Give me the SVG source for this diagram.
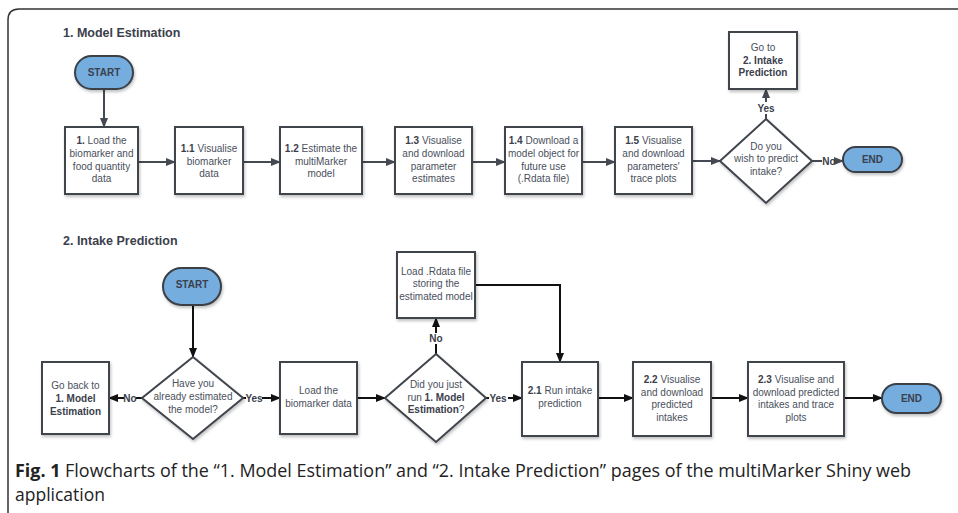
<svg xmlns="http://www.w3.org/2000/svg" width="958" height="513" viewBox="0 0 958 513">
<defs>
<marker id="ag" markerWidth="10" markerHeight="10" refX="9" refY="5" orient="auto" markerUnits="userSpaceOnUse"><path d="M0,1 L10,5 L0,9 Z" fill="#454a52"/></marker>
<marker id="ak" markerWidth="10" markerHeight="10" refX="9" refY="5" orient="auto" markerUnits="userSpaceOnUse"><path d="M0,1 L10,5 L0,9 Z" fill="#111"/></marker>
<filter id="sh" x="-10%" y="-10%" width="130%" height="130%"><feDropShadow dx="1" dy="2" stdDeviation="1.5" flood-color="#000" flood-opacity="0.25"/></filter>
</defs>
<style>
.box{fill:#fff;stroke:#3f444c;stroke-width:2;filter:url(#sh)}
.pill{fill:#74addf;stroke:#3a3f47;stroke-width:2;filter:url(#sh)}
.t{font-family:"Liberation Sans",Arial,sans-serif;font-size:10px;fill:#4a4f5c;text-anchor:middle}
.b{font-weight:bold;fill:#3b404c}
.h{font-family:"Liberation Sans",Arial,sans-serif;font-size:12.5px;font-weight:bold;fill:#3b404c}
.lbl{font-family:"Liberation Sans",Arial,sans-serif;font-size:10px;font-weight:bold;fill:#3b404c;text-anchor:middle}
.cg{fill:none;stroke:#454a52;stroke-width:2;marker-end:url(#ag)}
.ck{fill:none;stroke:#111;stroke-width:2;marker-end:url(#ak)}
.cap{font-family:"Open Sans","Liberation Sans",sans-serif;font-size:17.5px;fill:#222}
</style>
<path d="M8,513 L8,20 Q8,9 19,9 L958,9" fill="none" stroke="#333" stroke-width="1.5"/>
<text class="h" x="63" y="37">1. Model Estimation</text>
<text class="h" x="63" y="245">2. Intake Prediction</text>

<g id="connectors">
<path class="cg" d="M104,89 V127"/>
<path class="cg" d="M138,162 H175"/>
<path class="cg" d="M243,162 H280"/>
<path class="cg" d="M362,162 H395"/>
<path class="cg" d="M472,162 H505"/>
<path class="cg" d="M582,162 H615"/>
<path class="cg" d="M692,161 H720"/>
<path class="cg" d="M812,161 H822 M836,161 H843"/>
<path class="cg" d="M766,119 V114 M766,102 V89"/>
<path class="ck" d="M193,305 V357"/>
<path class="ck" d="M142,398 H136 M124,398 H109"/>
<path class="ck" d="M243,398 H246 M262,398 H280"/>
<path class="ck" d="M357,398 H385"/>
<path class="ck" d="M436,354 V344 M436,333 V318"/>
<path class="ck" d="M475,285 H560 V362"/>
<path class="ck" d="M486,398 H489 M508,398 H522"/>
<path class="ck" d="M598,398 H633"/>
<path class="ck" d="M711,398 H748"/>
<path class="ck" d="M844,398 H882"/>
</g>
<g id="labels">
<text class="lbl" x="829" y="165">No</text>
<text class="lbl" x="766" y="112">Yes</text>
<text class="lbl" x="130" y="402">No</text>
<text class="lbl" x="254" y="402">Yes</text>
<text class="lbl" x="436" y="342">No</text>
<text class="lbl" x="498" y="402">Yes</text>
</g>

<g id="start1"><rect class="pill" x="75" y="56" width="58" height="33" rx="16.5"/><text class="t b" x="104" y="76">START</text></g>
<g id="n1"><rect class="box" x="65" y="127" width="73" height="67"/>
<text class="t" x="101.5" y="144"><tspan class="b">1.</tspan> Load the</text>
<text class="t" x="101.5" y="157">biomarker and</text>
<text class="t" x="101.5" y="170">food quantity</text>
<text class="t" x="101.5" y="182">data</text></g>
<g id="n11"><rect class="box" x="175" y="127" width="68" height="67"/>
<text class="t" x="209" y="152"><tspan class="b">1.1</tspan> Visualise</text>
<text class="t" x="209" y="165">biomarker</text>
<text class="t" x="209" y="177">data</text></g>
<g id="n12"><rect class="box" x="280" y="127" width="82" height="67"/>
<text class="t" x="321" y="152"><tspan class="b">1.2</tspan> Estimate the</text>
<text class="t" x="321" y="165">multiMarker</text>
<text class="t" x="321" y="177">model</text></g>
<g id="n13"><rect class="box" x="395" y="127" width="77" height="67"/>
<text class="t" x="433.5" y="144"><tspan class="b">1.3</tspan> Visualise</text>
<text class="t" x="433.5" y="157">and download</text>
<text class="t" x="433.5" y="170">parameter</text>
<text class="t" x="433.5" y="182">estimates</text></g>
<g id="n14"><rect class="box" x="505" y="127" width="77" height="67"/>
<text class="t" x="543.5" y="144"><tspan class="b">1.4</tspan> Download a</text>
<text class="t" x="543.5" y="157">model object for</text>
<text class="t" x="543.5" y="170">future use</text>
<text class="t" x="543.5" y="182">(.Rdata file)</text></g>
<g id="n15"><rect class="box" x="615" y="127" width="77" height="67"/>
<text class="t" x="653.5" y="144"><tspan class="b">1.5</tspan> Visualise</text>
<text class="t" x="653.5" y="157">and download</text>
<text class="t" x="653.5" y="170">parameters'</text>
<text class="t" x="653.5" y="182">trace plots</text></g>
<g id="d1"><path class="box" d="M766,119 L812,161 L766,203 L720,161 Z"/>
<text class="t" x="766" y="150">Do you</text>
<text class="t" x="766" y="162">wish to predict</text>
<text class="t" x="766" y="175">intake?</text></g>
<g id="goto2"><rect class="box" x="729" y="32" width="68" height="57"/>
<text class="t" x="763" y="51">Go to</text>
<text class="t b" x="763" y="64">2. Intake</text>
<text class="t b" x="763" y="76">Prediction</text></g>
<g id="end1"><rect class="pill" x="843" y="147" width="59" height="25" rx="12.5"/><text class="t b" x="872.5" y="163">END</text></g>

<g id="start2"><rect class="pill" x="163" y="268" width="58" height="37" rx="18.5"/><text class="t b" x="192" y="288">START</text></g>
<g id="d2"><path class="box" d="M193,357 L243,398 L193,439 L142,398 Z"/>
<text class="t" x="193" y="387">Have you</text>
<text class="t" x="193" y="400">already estimated</text>
<text class="t" x="193" y="413">the model?</text></g>
<g id="goback"><rect class="box" x="42" y="362" width="67" height="72"/>
<text class="t" x="75.5" y="389">Go back to</text>
<text class="t b" x="75.5" y="402">1. Model</text>
<text class="t b" x="75.5" y="415">Estimation</text></g>
<g id="loadbio"><rect class="box" x="280" y="362" width="77" height="72"/>
<text class="t" x="318.5" y="394">Load the</text>
<text class="t" x="318.5" y="407">biomarker data</text></g>
<g id="d3"><path class="box" d="M436,354 L486,398 L436,442 L385,398 Z"/>
<text class="t" x="436" y="388">Did you just</text>
<text class="t" x="436" y="401">run <tspan class="b">1. Model</tspan></text>
<text class="t" x="436" y="413"><tspan class="b">Estimation</tspan>?</text></g>
<g id="loadrdata"><rect class="box" x="397" y="252" width="78" height="66"/>
<text class="t" x="436" y="275">Load .Rdata file</text>
<text class="t" x="436" y="287">storing the</text>
<text class="t" x="436" y="300">estimated model</text></g>
<g id="n21"><rect class="box" x="522" y="362" width="76" height="74"/>
<text class="t" x="560" y="394"><tspan class="b">2.1</tspan> Run intake</text>
<text class="t" x="560" y="407">prediction</text></g>
<g id="n22"><rect class="box" x="633" y="362" width="78" height="74"/>
<text class="t" x="672" y="383"><tspan class="b">2.2</tspan> Visualise</text>
<text class="t" x="672" y="396">and download</text>
<text class="t" x="672" y="408">predicted</text>
<text class="t" x="672" y="421">intakes</text></g>
<g id="n23"><rect class="box" x="748" y="362" width="96" height="74"/>
<text class="t" x="796" y="383"><tspan class="b">2.3</tspan> Visualise and</text>
<text class="t" x="796" y="396">download predicted</text>
<text class="t" x="796" y="408">intakes and trace</text>
<text class="t" x="796" y="421">plots</text></g>
<g id="end2"><rect class="pill" x="882" y="384" width="59" height="29" rx="14.5"/><text class="t b" x="911.5" y="402">END</text></g>

<text class="cap" x="15" y="477" textLength="896" lengthAdjust="spacingAndGlyphs"><tspan font-weight="bold">Fig. 1</tspan>  Flowcharts of the “1. Model Estimation” and “2. Intake Prediction” pages of the multiMarker Shiny web</text>
<text class="cap" x="15" y="501">application</text>
</svg>
